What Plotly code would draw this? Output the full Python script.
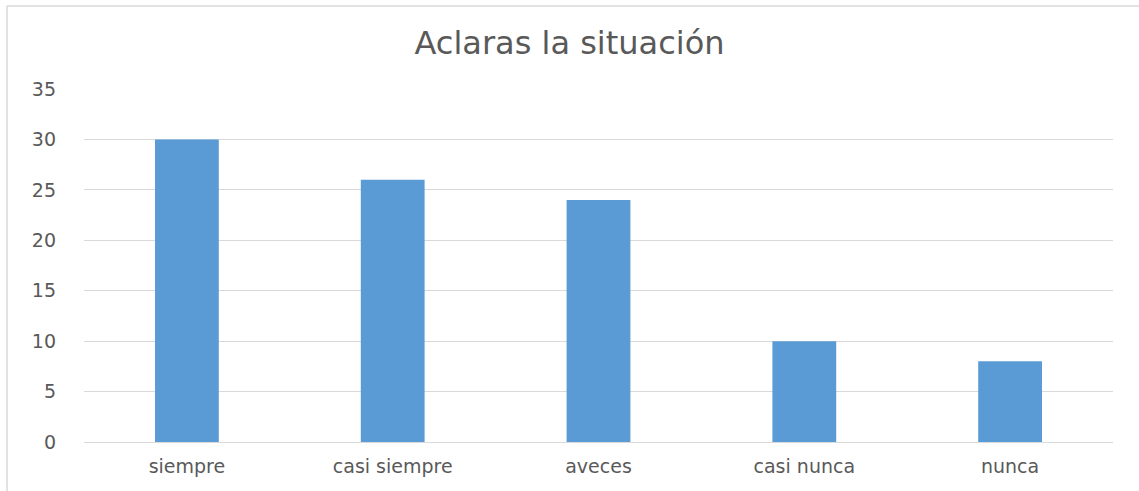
import plotly.graph_objects as go

categories = ["siempre", "casi siempre", "aveces", "casi nunca", "nunca"]
values = [30, 26, 24, 10, 8]
y_ticks = [0, 5, 10, 15, 20, 25, 30, 35]
title_text = "Aclaras la situación"

W, H = 1139, 491
L, R, T, B = 84, 26, 89, 49
pw, ph = W - L - R, H - T - B

def px_x(p):
    return (p - L) / pw

def px_y(p):
    return (H - B - p) / ph

FONT = "DejaVu Sans, Open Sans, sans-serif"

fig = go.Figure(go.Bar(x=categories, y=values, marker=dict(color="#5B9BD5", line=dict(width=0))))

fig.update_layout(
    width=W, height=H,
    margin=dict(l=L, r=R, t=T, b=B),
    paper_bgcolor="white", plot_bgcolor="white",
    bargap=0.69,
    showlegend=False,
    font=dict(family=FONT, color="#595959", size=19),
    title=dict(text=title_text, x=0.5, xanchor="center", y=1 - 43 / H, yanchor="middle",
               font=dict(family=FONT, size=32, color="#595959")),
    xaxis=dict(showgrid=False, showline=False, zeroline=False, ticks="",
               tickfont=dict(family=FONT, size=19, color="#595959"), ticklabelstandoff=11),
    yaxis=dict(range=[0, 35], tickvals=y_ticks, showgrid=True, gridcolor="#D9D9D9", gridwidth=1,
               zeroline=True, zerolinecolor="#D9D9D9", zerolinewidth=1, showline=False, ticks="",
               tickfont=dict(family=FONT, size=19, color="#595959"), ticklabelstandoff=27),
    shapes=[
        dict(type="line", xref="paper", yref="paper", x0=px_x(7), x1=px_x(7), y0=px_y(6), y1=px_y(H + 5),
             line=dict(color="#D9D9D9", width=1.5)),
        dict(type="line", xref="paper", yref="paper", x0=px_x(7), x1=px_x(W + 5), y0=px_y(6), y1=px_y(6),
             line=dict(color="#D9D9D9", width=1.5)),
    ],
)

fig.write_html("out.html", config={"displayModeBar": False},
               post_script="document.body.style.margin='0';document.body.style.overflow='hidden';")
